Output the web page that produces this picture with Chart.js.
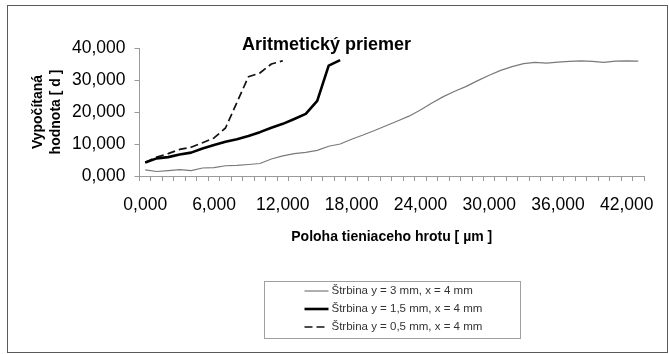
<!DOCTYPE html>
<html>
<head>
<meta charset="utf-8">
<script src="https://cdn.jsdelivr.net/npm/chart.js@4"></script>
<style>
  html, body { margin: 0; padding: 0; background: #fff; }
  #wrap { width: 669px; height: 354px; position: relative; }
</style>
</head>
<body>
<div id="wrap"><canvas id="c" width="669" height="354"></canvas></div>
<script>
// Tip position categories (every 6th one is labelled on the axis)
const categories = [
  '0,000', '1,000', '2,000', '3,000', '4,000', '5,000', '6,000', '7,000', '8,000', '9,000',
  '10,000', '11,000', '12,000', '13,000', '14,000', '15,000', '16,000', '17,000', '18,000', '19,000',
  '20,000', '21,000', '22,000', '23,000', '24,000', '25,000', '26,000', '27,000', '28,000', '29,000',
  '30,000', '31,000', '32,000', '33,000', '34,000', '35,000', '36,000', '37,000', '38,000', '39,000',
  '40,000', '41,000', '42,000', '43,000'
];
const xLabelEvery = 6;

// Computed values for each slit
const slit3mm = [
  1900, 1400, 1700, 2000, 1700, 2500, 2600, 3200, 3300, 3600,
  3900, 5300, 6300, 7000, 7400, 8000, 9300, 10000, 11500, 12800,
  14200, 15700, 17200, 18700, 20600, 22800, 24800, 26500, 28000, 29800,
  31500, 33000, 34200, 35100, 35500, 35300, 35600, 35800, 36000, 35800,
  35500, 35900, 36000, 35900
];
const slit15mm = [
  4200, 5500, 5900, 6700, 7300, 8600, 9700, 10700, 11500, 12500,
  13700, 15100, 16300, 17800, 19400, 23500, 34500, 36200
];
const slit05mm = [
  4200, 5900, 7000, 8300, 9000, 10400, 11900, 15000, 23000, 31000,
  32200, 35000, 36000
];

const seriesNames = [
  'Štrbina y = 3 mm, x = 4 mm',
  'Štrbina y = 1,5 mm, x = 4 mm',
  'Štrbina y = 0,5 mm, x = 4 mm'
];

const yTickValues = [0, 10000, 20000, 30000, 40000];
const yTickLabels = ['0,000', '10,000', '20,000', '30,000', '40,000'];

const chartTitle = 'Aritmetický priemer';
const xTitle = 'Poloha tieniaceho hrotu [ µm ]';
const yTitle = ['Vypočítaná', 'hodnota [ d ]'];

const FONT = '"Liberation Sans", Arial, Helvetica, sans-serif';
const AXIS_GREY = '#9a9a9a';

// Page frame, chart title and boxed legend
const decorations = {
  id: 'decorations',
  beforeDraw(chart) {
    const ctx = chart.ctx;
    ctx.save();
    ctx.fillStyle = '#fff';
    ctx.fillRect(0, 0, chart.width, chart.height);
    ctx.restore();
  },
  afterDraw(chart) {
    const ctx = chart.ctx;
    const area = chart.chartArea;
    ctx.save();

    // outer frame
    ctx.strokeStyle = '#5a5a5a';
    ctx.lineWidth = 1;
    ctx.strokeRect(7.5, 5.5, 660, 347);

    // title
    ctx.fillStyle = '#000';
    ctx.font = 'bold 18px ' + FONT;
    ctx.textAlign = 'center';
    ctx.textBaseline = 'middle';
    ctx.fillText(chartTitle, 326.5, 45);

    // legend
    const w = 256, h = 57, top = 281.5, rowH = 18;
    const left = Math.round((area.left + area.right) / 2 - w / 2) + 0.5;
    ctx.strokeStyle = '#a0a0a0';
    ctx.lineWidth = 1;
    ctx.strokeRect(left, top, w, h);
    ctx.font = '11.5px ' + FONT;
    ctx.textAlign = 'left';
    ctx.textBaseline = 'middle';
    chart.data.datasets.forEach((ds, i) => {
      const y = top + 9.5 + i * rowH;
      ctx.save();
      ctx.strokeStyle = ds.borderColor;
      ctx.lineWidth = ds.borderWidth;
      ctx.setLineDash(ds.borderDash || []);
      ctx.beginPath();
      ctx.moveTo(left + 40, y);
      ctx.lineTo(left + 64, y);
      ctx.stroke();
      ctx.restore();
      ctx.fillStyle = '#333';
      ctx.fillText(ds.label, left + 67, y);
    });
    ctx.restore();
  }
};

new Chart(document.getElementById('c'), {
  type: 'line',
  data: {
    labels: categories,
    datasets: [
      { label: seriesNames[0], data: slit3mm, borderColor: '#7a7a7a', borderWidth: 1.2 },
      { label: seriesNames[1], data: slit15mm, borderColor: '#000', borderWidth: 2.6 },
      { label: seriesNames[2], data: slit05mm, borderColor: '#111', borderWidth: 1.7, borderDash: [8, 4] }
    ]
  },
  options: {
    responsive: false,
    animation: false,
    devicePixelRatio: 1,
    layout: { padding: { left: 20, right: 25, top: 48, bottom: 98 } },
    elements: {
      point: { radius: 0, hoverRadius: 0 },
      line: { tension: 0, fill: false, borderCapStyle: 'butt', borderJoinStyle: 'round' }
    },
    plugins: {
      legend: { display: false },
      title: { display: false },
      tooltip: { enabled: false }
    },
    scales: {
      x: {
        type: 'category',
        offset: true,
        grid: { offset: true, drawOnChartArea: false, tickLength: 5, color: AXIS_GREY },
        border: { color: AXIS_GREY, width: 1 },
        ticks: {
          autoSkip: false, maxRotation: 0, minRotation: 0, padding: 14,
          color: '#000', font: { family: FONT, size: 17.5 },
          callback: (v, i) => (i % xLabelEvery === 0 ? categories[i] : '')
        },
        title: {
          display: true, text: xTitle, color: '#000',
          font: { family: FONT, size: 14, weight: 'bold', lineHeight: 1.3 },
          padding: { top: 0, bottom: 10 }
        },
        afterFit(s) { s.height = 80; }
      },
      y: {
        min: 0, max: 40000,
        afterBuildTicks(s) { s.ticks = yTickValues.map(v => ({ value: v })); },
        grid: { drawOnChartArea: false, tickLength: 5, color: AXIS_GREY },
        border: { color: AXIS_GREY, width: 1 },
        ticks: {
          padding: 9, color: '#000', font: { family: FONT, size: 17.5 },
          callback: (v) => yTickLabels[yTickValues.indexOf(v)]
        },
        title: {
          display: true, text: yTitle, color: '#000',
          font: { family: FONT, size: 14, weight: 'bold', lineHeight: 1.3 },
          padding: { top: 9, bottom: 0 }
        },
        afterFit(s) { s.width = 119.5; }
      }
    }
  },
  plugins: [decorations]
});
</script>
</body>
</html>
